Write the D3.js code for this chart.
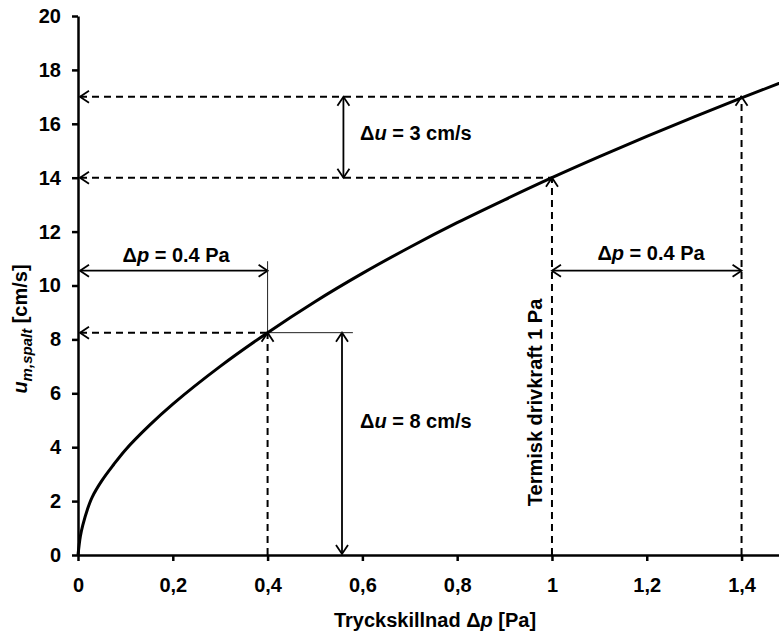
<!DOCTYPE html>
<html>
<head>
<meta charset="utf-8">
<script src="https://cdn.jsdelivr.net/npm/d3@7"></script>
<style>
body { margin: 0; background: #fff; }
text { font-family: "Liberation Sans", Arial, sans-serif; font-weight: bold; fill: #000; font-size: 20px; }
.axis path, .axis line { stroke: #000; stroke-width: 2.5px; }
</style>
</head>
<body>
<svg width="779" height="633"></svg>
<script>
// curve
const pressure = [0, 0.005, 0.01, 0.02, 0.03, 0.05, 0.075, 0.1, 0.15, 0.2, 0.3, 0.4, 0.5, 0.6, 0.7, 0.8, 0.9, 1.0, 1.1, 1.2, 1.3, 1.4, 1.5];
const velocity = [0, 0.7, 1.1, 1.7, 2.15, 2.75, 3.35, 3.9, 4.8, 5.6, 7.0, 8.25, 9.4, 10.45, 11.42, 12.33, 13.18, 14.0, 14.78, 15.53, 16.26, 16.96, 17.64];

const xTicks = [0, 0.2, 0.4, 0.6, 0.8, 1.0, 1.2, 1.4];
const xTickLabels = ["0", "0,2", "0,4", "0,6", "0,8", "1", "1,2", "1,4"];
const yTicks = [0, 2, 4, 6, 8, 10, 12, 14, 16, 18, 20];

// annotation lines in data units: [x1, y1, x2, y2, marker]
const dashedLines = [
  [0, 17, 1.4, 17, "start"],
  [0, 14, 1.0, 14, "start"],
  [0, 8.25, 0.4, 8.25, "start"],
  [1.0, 0, 1.0, 14, "end"],
  [1.4, 0, 1.4, 17, "end"],
  [0.4, 0, 0.4, 8.25, "end"]
];
const arrowLines = [
  [0.56, 14, 0.56, 17],
  [0.557, 0, 0.557, 8.25],
  [0, 10.55, 0.4, 10.55],
  [1.0, 10.55, 1.4, 10.55]
];
const thinLines = [
  [0.4, 8.25, 0.4, 10.9],
  [0.4, 8.25, 0.58, 8.25]
];
// labels: [x, y, symbol, rest, anchor]
const labels = [
  [0.595, 15.4, "u", " = 3 cm/s", "start"],
  [0.595, 4.71, "u", " = 8 cm/s", "start"],
  [0.207, 10.88, "p", " = 0.4 Pa", "middle"],
  [1.209, 10.95, "p", " = 0.4 Pa", "middle"]
];

const svg = d3.select("svg");
const x = d3.scaleLinear().domain([0, 1.479]).range([78, 779]);
const y = d3.scaleLinear().domain([0, 20]).range([555, 16]);

const defs = svg.append("defs");
[["arrowEnd", "M-9,-6L0,0L-9,6"], ["arrowStart", "M9,-6L0,0L9,6"]].forEach(([id, d]) => {
  defs.append("marker")
    .attr("id", id)
    .attr("markerUnits", "userSpaceOnUse")
    .attr("viewBox", "-12 -8 24 16")
    .attr("markerWidth", 24).attr("markerHeight", 16)
    .attr("refX", 0).attr("refY", 0)
    .attr("orient", "auto")
    .append("path")
    .attr("d", d)
    .attr("fill", "none")
    .attr("stroke", "#000")
    .attr("stroke-width", 1.8);
});

// axes
svg.append("g")
  .attr("class", "axis")
  .attr("transform", `translate(0,${y(0)})`)
  .call(d3.axisBottom(x).tickValues(xTicks).tickFormat((d, i) => xTickLabels[i])
    .tickSize(6).tickSizeOuter(0).tickPadding(17))
  .call(g => g.selectAll("text").attr("font-size", 20));

svg.append("g")
  .attr("class", "axis")
  .attr("transform", `translate(${x(0)},0)`)
  .call(d3.axisLeft(y).tickValues(yTicks).tickSize(6).tickSizeOuter(0).tickPadding(11))
  .call(g => g.selectAll("text").attr("font-size", 20));

// dashed guides
svg.append("g").selectAll("line").data(dashedLines).join("line")
  .attr("x1", d => x(d[0]) + (d[4] === "start" ? 2 : 0))
  .attr("y1", d => y(d[1]))
  .attr("x2", d => x(d[2]))
  .attr("y2", d => y(d[3]))
  .attr("stroke", "#000")
  .attr("stroke-width", 2)
  .attr("stroke-dasharray", "7,5")
  .attr("marker-start", d => d[4] === "start" ? "url(#arrowStart)" : null)
  .attr("marker-end", d => d[4] === "end" ? "url(#arrowEnd)" : null);

// double arrows
svg.append("g").selectAll("line").data(arrowLines).join("line")
  .attr("x1", d => x(d[0]) + (d[0] === 0 ? 2 : 0))
  .attr("y1", d => y(d[1]) - (d[1] === 0 ? 1 : 0))
  .attr("x2", d => x(d[2]))
  .attr("y2", d => y(d[3]))
  .attr("stroke", "#000")
  .attr("stroke-width", 1.8)
  .attr("marker-start", "url(#arrowStart)")
  .attr("marker-end", "url(#arrowEnd)");

svg.append("g").selectAll("line").data(thinLines).join("line")
  .attr("x1", d => x(d[0]))
  .attr("y1", d => y(d[1]))
  .attr("x2", d => x(d[2]))
  .attr("y2", d => y(d[3]))
  .attr("stroke", "#222")
  .attr("stroke-width", 1);

// curve
const line = d3.line()
  .x((d, i) => x(pressure[i]))
  .y(d => y(d))
  .curve(d3.curveCatmullRom.alpha(0.5));
svg.append("path")
  .datum(velocity)
  .attr("d", line)
  .attr("fill", "none")
  .attr("stroke", "#000")
  .attr("stroke-width", 3);

// labels
const lab = svg.append("g").selectAll("text").data(labels).join("text")
  .attr("x", d => x(d[0]))
  .attr("y", d => y(d[1]))
  .attr("text-anchor", d => d[4]);
lab.append("tspan").text("\u0394");
lab.append("tspan").attr("font-style", "italic").text(d => d[2]);
lab.append("tspan").text(d => d[3]);

svg.append("text")
  .attr("transform", `translate(${x(0.979)},${y(5.66)}) rotate(-90)`)
  .attr("text-anchor", "middle")
  .text("Termisk drivkraft 1 Pa");

// axis titles
const xt = svg.append("text")
  .attr("x", 435).attr("y", 627)
  .attr("text-anchor", "middle");
xt.append("tspan").text("Tryckskillnad \u0394");
xt.append("tspan").attr("font-style", "italic").text("p");
xt.append("tspan").text(" [Pa]");

const yt = svg.append("text")
  .attr("transform", "translate(27,329) rotate(-90)")
  .attr("text-anchor", "middle");
yt.append("tspan").attr("font-style", "italic").text("u");
yt.append("tspan").attr("font-style", "italic").attr("font-size", 15).attr("dy", 5).text("m,spalt");
yt.append("tspan").attr("dy", -5).text(" [cm/s]");
</script>
</body>
</html>
